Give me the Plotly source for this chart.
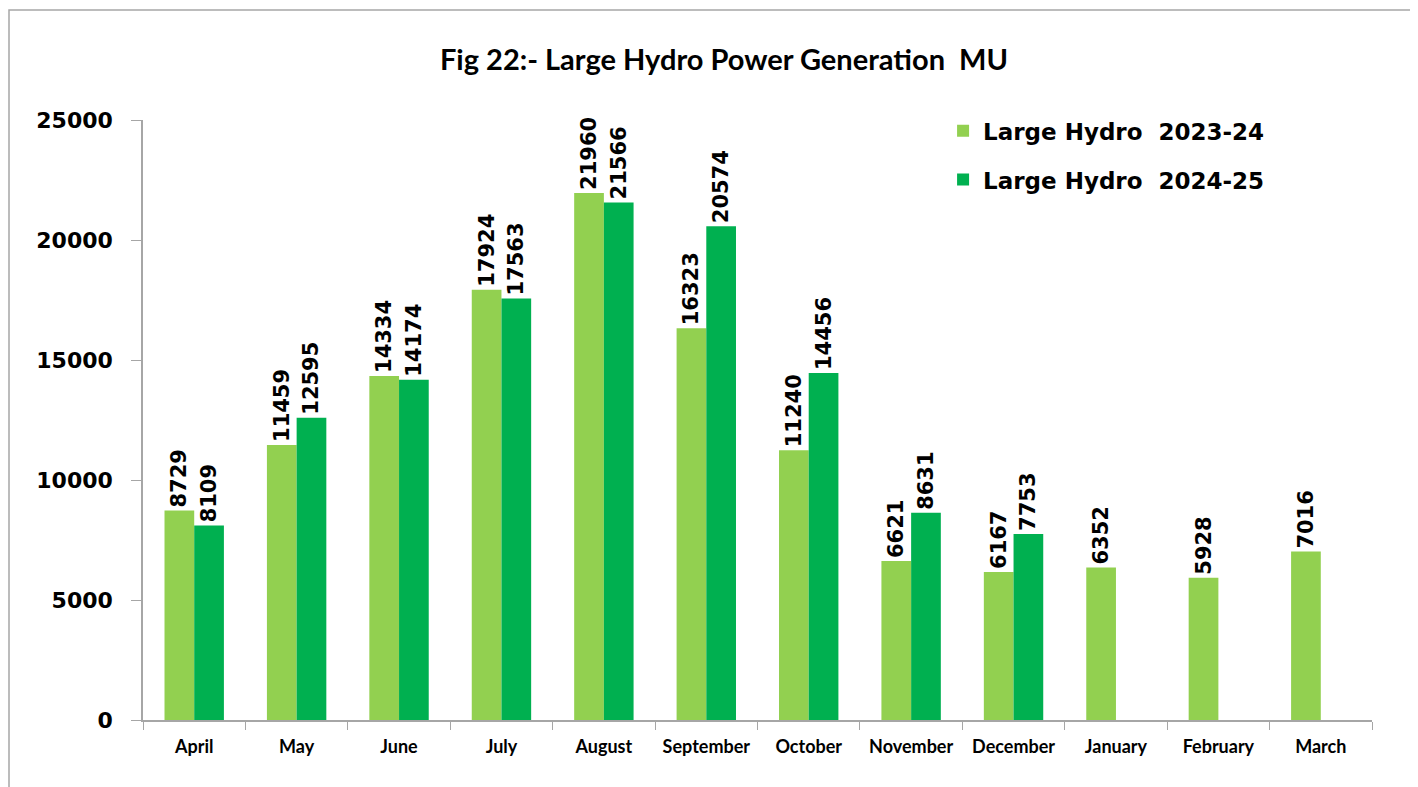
import plotly.graph_objects as go

months = ["April", "May", "June", "July", "August", "September", "October",
          "November", "December", "January", "February", "March"]
hydro_2023_24 = [8729, 11459, 14334, 17924, 21960, 16323, 11240, 6621, 6167, 6352, 5928, 7016]
hydro_2024_25 = [8109, 12595, 14174, 17563, 21566, 20574, 14456, 8631, 7753, None, None, None]

series_names = ["Large Hydro  2023-24", "Large Hydro  2024-25"]
colors = ["#92D050", "#00B050"]

label_font = dict(family="DejaVu Sans", size=21, color="#000000")

fig = go.Figure()
for i, (name, vals) in enumerate(zip(series_names, [hydro_2023_24, hydro_2024_25])):
    fig.add_trace(go.Bar(
        x=months, y=vals, name=f"<b>{name}</b>",
        marker=dict(color=colors[i], line=dict(width=0)),
        text=[("" if v is None else f"<b>{v}</b>") for v in vals],
        textposition="outside", textangle=-90, constraintext="none",
        textfont=label_font, cliponaxis=False,
        legendgroup=f"g{i}",
    ))

W, H = 1418, 787
fig.update_layout(
    width=W, height=H,
    paper_bgcolor="white", plot_bgcolor="white",
    margin=dict(l=135, r=54, t=112, b=75),
    barmode="group", bargap=0.42, bargroupgap=0,
    title=dict(text="<b>Fig 22:- Large Hydro Power Generation  MU</b>",
               x=(724 - 8) / W, xanchor="center", xref="container",
               y=1 - 52 / H, yanchor="middle", yref="container",
               font=dict(family="Lato", size=29, color="#000000")),
    legend=dict(x=0.651, y=1.018, xanchor="left", yanchor="top",
                font=dict(family="DejaVu Sans", size=23, color="#000000"),
                bgcolor="rgba(0,0,0,0)", tracegroupgap=16,
                itemsizing="constant"),
    xaxis=dict(type="category", showline=True, linecolor="#a6a6a6", linewidth=1.5,
               ticks="outside", tickson="boundaries", ticklen=8, tickcolor="#a6a6a6",
               tickfont=dict(family="Lato", size=18, color="#000000"),
               showgrid=False, tickprefix="<b>", ticksuffix="</b>",
               ticklabelstandoff=10),
    yaxis=dict(range=[0, 25000], dtick=5000, tickformat="d", showline=True,
               linecolor="#a6a6a6", linewidth=1.5, ticks="outside", ticklen=10,
               tickcolor="#a6a6a6",
               tickfont=dict(family="DejaVu Sans", size=22, color="#000000"),
               showgrid=False, zeroline=False, tickprefix="<b>", ticksuffix="</b>",
               ticklabelstandoff=14),
    shapes=[dict(type="rect", xref="paper", yref="paper",
                 x0=(1 - 135) / 1229, x1=(1405 - 135) / 1229,
                 y0=(712 - 800) / 600, y1=(712 - 2) / 600,
                 line=dict(color="#a6a6a6", width=1.5), fillcolor="rgba(0,0,0,0)",
                 layer="below")],
)

fig.write_html("out.html")
